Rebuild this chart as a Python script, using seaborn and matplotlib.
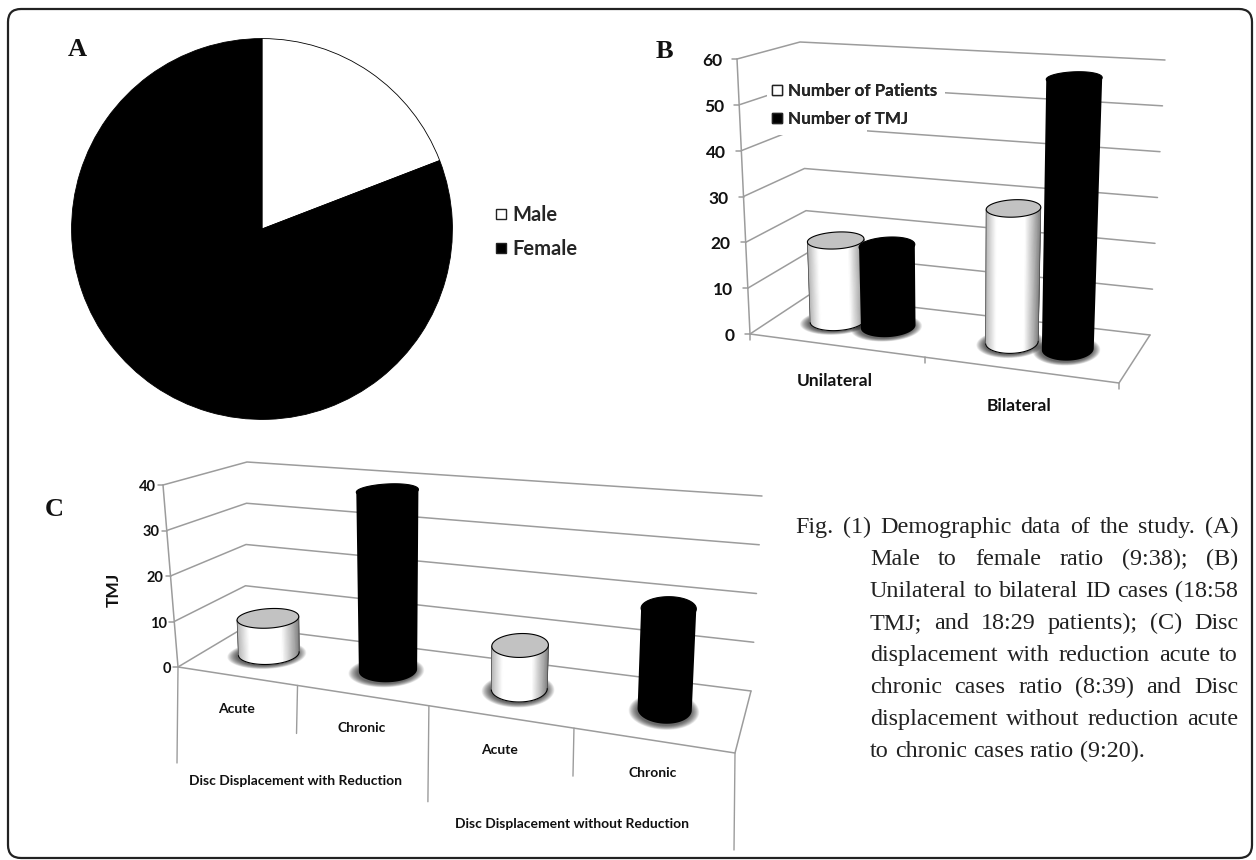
import numpy as np
import pandas as pd
import matplotlib
matplotlib.use("Agg")
import matplotlib.pyplot as plt
from matplotlib.collections import PolyCollection
from matplotlib.lines import Line2D
from matplotlib.patches import FancyBboxPatch, Polygon, Rectangle
import seaborn as sns

# data
pie_labels = ["Male", "Female"]
pie_values = [9, 38]

b_categories = ["Unilateral", "Bilateral"]
b_series = ["Number of Patients", "Number of TMJ"]
b_patients = [18, 29]
b_tmj = [18, 58]
b_ticks = [0, 10, 20, 30, 40, 50, 60]

c_groups = ["Disc Displacement with Reduction", "Disc Displacement without Reduction"]
c_kinds = ["Acute", "Chronic", "Acute", "Chronic"]
c_values = [8, 39, 9, 20]
c_ticks = [0, 10, 20, 30, 40]

caption_lines = [
    "Fig. (1) Demographic data of the study. (A)",
    "Male to female ratio (9:38); (B)",
    "Unilateral to bilateral ID cases (18:58",
    "TMJ; and 18:29 patients); (C) Disc",
    "displacement with reduction acute to",
    "chronic cases ratio (8:39) and Disc",
    "displacement without reduction acute",
    "to chronic cases ratio (9:20).",
]

sns.set_theme(style="white")
plt.rcParams["font.family"] = ["Lato", "DejaVu Sans"]

GRID = "#9c9c9c"
W, H = 1256, 860

fig = plt.figure(figsize=(W / 100, H / 100), dpi=100, facecolor="white")
ax = fig.add_axes([0, 0, 1, 1])
ax.set_xlim(0, W)
ax.set_ylim(H, 0)
ax.axis("off")

# outer frame
ax.add_patch(FancyBboxPatch((20, 21), 1220, 825, boxstyle="round,pad=12,rounding_size=13",
                            fc="none", ec="#222222", lw=1.6, zorder=1))

# floor and wall corners of the two fake 3d boxes, in pixels
panel_b = dict(fl=(750, 334), fr=(1119, 383), bl=(809, 295), br=(1150, 335),
               tfl=(737, 59), tfr=(1125, 89), tbl=(800, 42), tbr=(1165, 60),
               ru=0.069, rv=0.24, vc=0.53, k=1.11, vmax=60, tick_fs=12.5, tick_off=15)
panel_c = dict(fl=(178, 667), fr=(735, 753), bl=(245, 627), br=(751, 691),
               tfl=(163, 485), tfr=(745, 533), tbl=(247, 462), tbr=(762, 496),
               ru=0.05, rv=0.24, vc=0.53, k=1.22, vmax=40, tick_fs=10.5, tick_off=7)


def warp(p, u):
    # perspective along the category axis
    return u / (u + p["k"] * (1 - u))


def project(p, u, v, t):
    u, v, t = np.atleast_1d(u), np.atleast_1d(v), np.atleast_1d(t)
    corners = [np.array(p[n], dtype=float) for n in ("fl", "fr", "bl", "br", "tfl", "tfr", "tbl", "tbr")]
    def blend(a, b, c, d):
        return (np.outer((1 - u) * (1 - v), a) + np.outer(u * (1 - v), b)
                + np.outer((1 - u) * v, c) + np.outer(u * v, d))
    floor = blend(*corners[:4])
    top = blend(*corners[4:])
    return floor + (top - floor) * t[:, None]


def draw_box(p, ticks, grid_lw=1.1):
    for val in ticks:
        t = val / p["vmax"]
        pts = np.vstack([project(p, 0, 0, t), project(p, 0, 1, t), project(p, 1, 1, t)])
        ax.plot(pts[:, 0], pts[:, 1], color=GRID, lw=grid_lw, zorder=2)
        ax.plot([pts[0, 0] - 5, pts[0, 0]], [pts[0, 1], pts[0, 1]], color=GRID, lw=grid_lw, zorder=2)
        ax.text(pts[0, 0] - p["tick_off"], pts[0, 1] + 2, str(val), ha="right", va="center",
                fontsize=p["tick_fs"], fontweight="bold", color="#111111")
    pts = np.vstack([project(p, 0, 0, 0), project(p, 0, 0, 1)])
    ax.plot(pts[:, 0], pts[:, 1], color=GRID, lw=grid_lw, zorder=2)
    floor = np.vstack([project(p, 0, 0, 0), project(p, 1, 0, 0), project(p, 1, 1, 0)])
    ax.plot(floor[:, 0], floor[:, 1], color=GRID, lw=grid_lw, zorder=2)


def cylinder(p, u, value, color):
    n = 120
    th = np.linspace(0, 2 * np.pi, n, endpoint=False)
    uu = u + p["ru"] * np.cos(th)
    vv = p["vc"] + p["rv"] * np.sin(th)
    t = value / p["vmax"]
    bottom = project(p, uu, vv, 0 * th)
    top = project(p, uu, vv, t + 0 * th)

    # soft floor shadow
    for sc in np.linspace(1.3, 1.0, 16):
        ring = project(p, u + p["ru"] * sc * np.cos(th), p["vc"] - 0.03 + p["rv"] * sc * np.sin(th), 0 * th)
        ax.add_patch(Polygon(ring, closed=True, fc="black", ec="none", alpha=0.05, zorder=3))

    dark = color == "black"
    il, ir = bottom[:, 0].argmin(), bottom[:, 0].argmax()
    tl, tr = top[:, 0].argmin(), top[:, 0].argmax()
    # front arc of the ring, from the left extreme to the right extreme
    arc = (il + np.arange((ir - il) % n + 1)) % n
    body = [bottom[il], *bottom[arc], bottom[ir], top[tr], top[tl]]
    ax.add_patch(Polygon(body, closed=True, fc=color, ec="none", zorder=4))

    if not dark:
        xc = 0.5 * (bottom[il, 0] + bottom[ir, 0])
        hw = 0.5 * (bottom[ir, 0] - bottom[il, 0])
        quads, shades = [], []
        for a, b in zip(arc[:-1], arc[1:]):
            s = (0.5 * (bottom[a, 0] + bottom[b, 0]) - xc) / hw
            g = 1 - 0.3 * max(0, -s - 0.6) / 0.4 - 0.48 * max(0, s - 0.45) / 0.55
            quads.append([bottom[a], bottom[b], top[b], top[a]])
            shades.append((g, g, g))
        ax.add_collection(PolyCollection(quads, facecolors=shades, edgecolors=shades,
                                         linewidths=0.4, zorder=4))
        ax.plot(bottom[arc, 0], bottom[arc, 1], color="black", lw=0.8, zorder=4)
        ax.plot([bottom[il, 0], top[tl, 0]], [bottom[il, 1], top[tl, 1]], color="#444444", lw=0.5, zorder=4)
        ax.plot([bottom[ir, 0], top[tr, 0]], [bottom[ir, 1], top[tr, 1]], color="#444444", lw=0.5, zorder=4)
    cap = "black" if dark else "#c2c2c2"
    ax.add_patch(Polygon(top, closed=True, fc=cap, ec="black", lw=0.8, zorder=4))


def bars_from_seaborn(df, hue, palette, dodge, width):
    # seaborn works out the dodged positions and heights, the fake 3d drawing reads them back
    h = fig.add_axes([0, 0, 0.1, 0.1])
    sns.barplot(data=df, x="x", y="y", hue=hue, palette=palette, dodge=dodge,
                width=width, ax=h, legend=False)
    x0, x1 = h.get_xlim()
    bars = []
    for patch in h.patches:
        if patch.get_height() > 0:
            u = (patch.get_x() + patch.get_width() / 2 - x0) / (x1 - x0)
            fc = "black" if sum(patch.get_facecolor()[:3]) < 1.5 else "white"
            bars.append((u, patch.get_height(), fc))
    h.set_visible(False)
    return sorted(bars)


# panel A
ax_pie = fig.add_axes([71 / W, 1 - 420 / H, 382 / W, 382 / H])
ax_pie.pie(pie_values, colors=["white", "black"], startangle=90, counterclock=False, radius=1,
           wedgeprops=dict(edgecolor="black", linewidth=0.6))
ax_pie.set_xlim(-1.003, 1.003)
ax_pie.set_ylim(-1.003, 1.003)

for name, x, y in [("A", 77, 49.5), ("B", 664, 51.5), ("C", 54, 510)]:
    ax.text(x, y, name, family="Liberation Serif", fontweight="bold", fontsize=19,
            ha="center", va="center", color="#111111")


def square_handles():
    return [Line2D([], [], ls="none", marker="s", ms=7.5, mfc=c, mec="#222222", mew=1.0)
            for c in ["white", "black"]]


leg_a = ax.legend(square_handles(), pie_labels, loc="upper left", bbox_to_anchor=(491, 205),
                  bbox_transform=ax.transData, frameon=False, prop=dict(family="Lato", weight="bold", size=14.5),
                  borderpad=0, borderaxespad=0, labelspacing=0.68, handlelength=1.0, handletextpad=0.05)
ax.add_artist(leg_a)

# panel B
b_df = pd.DataFrame({
    "x": b_categories * 2,
    "series": [b_series[0]] * 2 + [b_series[1]] * 2,
    "y": b_patients + b_tmj,
})
draw_box(panel_b, b_ticks)
for u, val, fc in bars_from_seaborn(b_df, "series", ["white", "black"], True, 0.6):
    cylinder(panel_b, warp(panel_b, u), val, fc)

for m in (0, 0.5, 1):
    pt = project(panel_b, warp(panel_b, m), 0, 0)[0]
    ax.plot([pt[0], pt[0]], [pt[1], pt[1] + 6], color=GRID, lw=1.1, zorder=2)
for i, name in enumerate(b_categories):
    pt = project(panel_b, warp(panel_b, (i + 0.5) / 2), 0, 0)[0]
    ax.text(pt[0], pt[1] + 36, name, ha="center", va="center", fontweight="bold", fontsize=12.5, color="#111111")

# white behind the legend text, it cuts the gridlines
ax.add_patch(Rectangle((767, 78), 178, 28, fc="white", ec="none", zorder=2.5))
ax.add_patch(Rectangle((767, 106), 100, 29, fc="white", ec="none", zorder=2.5))
leg_b = ax.legend(square_handles(), b_series, loc="upper left", bbox_to_anchor=(768, 83),
                  bbox_transform=ax.transData, frameon=False,
                  prop=dict(family="Lato", weight="bold", size=12.3),
                  borderpad=0, borderaxespad=0, labelspacing=0.72, handlelength=1.0, handletextpad=0.2)
ax.add_artist(leg_b)

# panel C
c_df = pd.DataFrame({
    "x": [g + " " + k for g, k in zip([c_groups[0]] * 2 + [c_groups[1]] * 2, c_kinds)],
    "kind": c_kinds,
    "y": c_values,
})
draw_box(panel_c, c_ticks)
for u, val, fc in bars_from_seaborn(c_df, "kind", ["white", "black"], False, 0.8):
    cylinder(panel_c, warp(panel_c, u), val, fc)

for m, drop in zip([0, 0.25, 0.5, 0.75, 1], [96, 48, 96, 48, 97]):
    pt = project(panel_c, warp(panel_c, m), 0, 0)[0]
    ax.plot([pt[0], pt[0] - 1], [pt[1], pt[1] + drop], color=GRID, lw=1.0, zorder=2)
for i, name in enumerate(c_kinds):
    pt = project(panel_c, warp(panel_c, (i + 0.5) / 4), 0, 0)[0]
    ax.text(pt[0], pt[1] + 33, name, ha="center", va="center", fontweight="bold", fontsize=10, color="#111111")
for i, name in enumerate(c_groups):
    pt = project(panel_c, warp(panel_c, (i + 0.5) / 2), 0, 0)[0]
    ax.text(pt[0] - 2, pt[1] + 96, name, ha="center", va="center", fontweight="bold", fontsize=10, color="#111111")
ax.text(114, 590, "TMJ", rotation=90, ha="center", va="center", fontweight="bold", fontsize=12.5, color="#111111")

# caption, justified word by word
renderer = fig.canvas.get_renderer()
cap_right = 1238
for n, line in enumerate(caption_lines):
    left = 795 if n == 0 else 870
    base = 533 + 32 * n
    words = line.split(" ")
    items = [ax.text(0, base, w, family="Liberation Serif", fontsize=17.4, color="#222222", va="baseline")
             for w in words]
    widths = [t.get_window_extent(renderer).width for t in items]
    if n == len(caption_lines) - 1:
        gap = 6
    else:
        gap = (cap_right - left - sum(widths)) / (len(words) - 1)
    x = left
    for t, w in zip(items, widths):
        t.set_x(x)
        x += w + gap

fig.savefig("out.png", dpi=100, facecolor="white")
